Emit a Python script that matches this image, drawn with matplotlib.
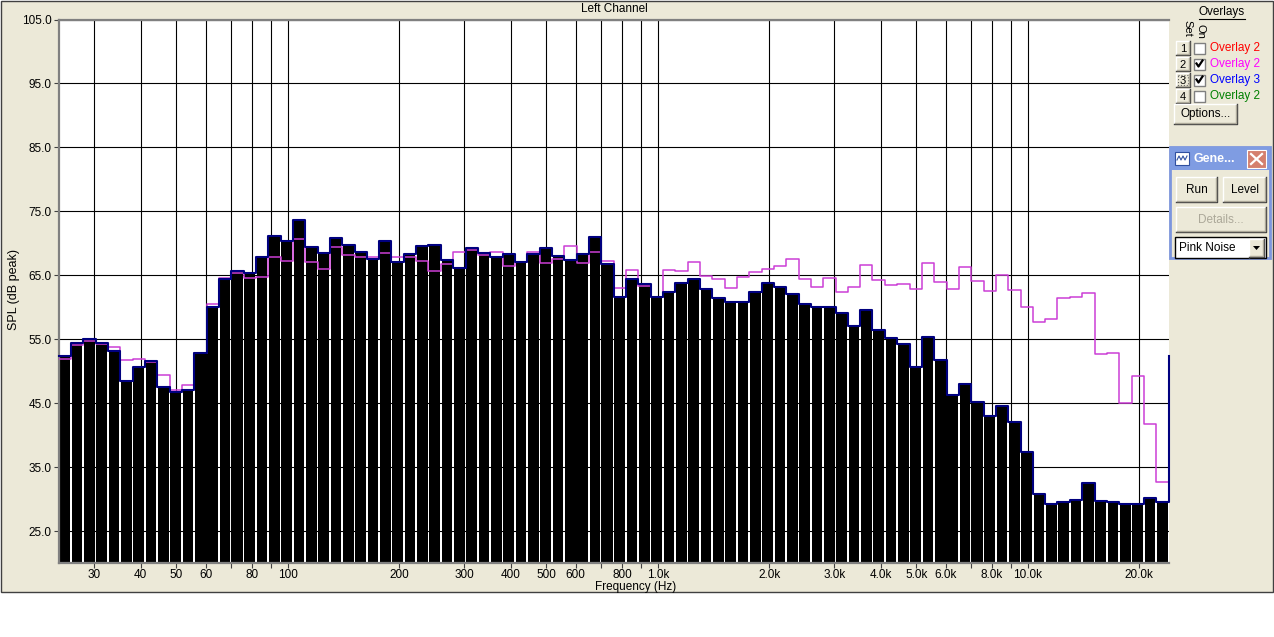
import numpy as np
import matplotlib.pyplot as plt
from matplotlib.patches import Rectangle, Polygon

plt.rcParams['font.family'] = ['Liberation Sans', 'DejaVu Sans']

# analyzer bands: log spaced from 24 Hz to 24 kHz
F_LO, F_HI, N_BANDS = 24.0, 24000.0, 90

# live measurement (black bars, traced by overlay 3 in blue), dB peak per band
spl_live = [52.4, 54.4, 55.0, 54.4, 53.2, 48.5, 50.7, 51.6, 47.5, 46.7,
            47.1, 52.9, 60.1, 64.4, 65.6, 65.4, 67.8, 71.2, 70.4, 73.7,
            69.4, 68.5, 70.8, 69.8, 68.7, 67.6, 70.4, 67.0, 68.4, 69.6,
            69.8, 67.4, 66.2, 69.2, 68.5, 67.8, 68.4, 67.1, 68.4, 69.3,
            68.0, 67.4, 68.4, 71.0, 66.7, 61.6, 64.4, 63.6, 61.6, 62.4,
            63.8, 64.4, 62.8, 61.4, 60.8, 60.8, 62.4, 63.8, 63.1, 62.0,
            60.5, 60.0, 60.0, 59.1, 57.1, 59.5, 56.4, 55.2, 54.3, 50.7,
            55.4, 51.8, 46.3, 48.0, 45.2, 43.0, 44.5, 42.0, 37.4, 30.8,
            29.2, 29.5, 29.8, 32.5, 29.7, 29.5, 29.3, 29.3, 30.1, 29.5]
# blue trace climbs to this level at the right edge
spl_live_next = 52.4

# overlay 2 (magenta)
spl_overlay2 = [51.9, 54.1, 54.7, 54.2, 53.8, 51.8, 51.9, 51.5, 49.4, 47.1,
                47.9, 52.9, 60.5, 64.5, 65.4, 64.5, 64.7, 67.9, 67.2, 70.6,
                67.0, 66.0, 69.4, 68.2, 67.9, 67.8, 68.5, 67.9, 67.9, 67.2,
                65.7, 66.7, 68.7, 69.0, 68.2, 68.6, 66.5, 67.1, 68.6, 66.9,
                67.5, 69.5, 66.9, 68.7, 67.3, 63.0, 65.8, 63.3, 61.6, 65.9,
                65.6, 67.0, 64.9, 64.4, 63.0, 64.7, 65.5, 66.0, 66.5, 67.5,
                64.4, 63.2, 64.6, 62.4, 63.2, 66.6, 64.3, 63.5, 63.6, 62.9,
                66.9, 64.0, 62.9, 66.3, 64.1, 62.6, 65.0, 62.7, 60.0, 57.7,
                58.1, 61.4, 61.6, 62.2, 52.7, 52.8, 45.1, 49.2, 41.8, 32.7]

grid_freqs = [30, 40, 50, 60, 70, 80, 90, 100, 200, 300, 400, 500, 600, 700,
              800, 900, 1000, 2000, 3000, 4000, 5000, 6000, 7000, 8000, 9000,
              10000, 20000]
grid_labels = ['30', '40', '50', '60', '', '80', '', '100', '200', '300', '400',
               '500', '600', '', '800', '', '1.0k', '2.0k', '3.0k', '4.0k',
               '5.0k', '6.0k', '', '8.0k', '', '10.0k', '20.0k']
y_ticks = [25, 35, 45, 55, 65, 75, 85, 95, 105]

W, H = 1274, 637
fig = plt.figure(figsize=(W / 100, H / 100), dpi=100)
fig.patch.set_facecolor('white')

# pixel-space layer for the window chrome
ui = fig.add_axes([0, 0, 1, 1])
ui.set_xlim(0, W)
ui.set_ylim(H, 0)
ui.axis('off')
ui.set_zorder(-1)
ui.add_patch(Rectangle((0.5, 0.5), W - 1.5, 591, facecolor='#ECE9D8',
                       edgecolor='#404040', lw=1))

ax = fig.add_axes([58.5 / W, (H - 563) / H, 1110 / W, 543.5 / H])
ax.set_facecolor('white')

edges = F_LO * (F_HI / F_LO) ** (np.arange(N_BANDS + 1) / N_BANDS)
r = (F_HI / F_LO) ** (1 / N_BANDS)
left = edges[:-1] * r ** 0.07
right = edges[1:] * r ** -0.07
ax.bar(left, spl_live, width=right - left, align='edge', color='black',
       linewidth=0, zorder=2)
ax.step(edges, spl_overlay2 + [spl_overlay2[-1]], where='post',
        color='#CC3ED6', lw=1.1, zorder=3)
ax.step(edges, spl_live + [spl_live_next], where='post',
        color='#00007F', lw=1.5, zorder=4, clip_on=False)

ax.set_xscale('log')
ax.set_xlim(F_LO, F_HI)
ax.set_ylim(20, 105)
ax.set_xticks(grid_freqs)
ax.set_xticklabels(grid_labels)
ax.xaxis.set_minor_locator(plt.NullLocator())
ax.set_yticks(y_ticks)
ax.set_yticklabels([f'{v:.1f}' for v in y_ticks])
ax.grid(True, color='black', lw=0.8, zorder=1)
ax.set_axisbelow(True)
ax.tick_params(axis='both', labelsize=8.5, length=3.5, width=0.8, color='#404040', pad=1.5)
ax.tick_params(axis='x', pad=1)

for side in ['left', 'bottom', 'top']:
    ax.spines[side].set_color('#808080')
    ax.spines[side].set_linewidth(1.6)
ax.spines['right'].set_visible(False)

ui.text(614, 9, 'Left Channel', ha='center', va='center', fontsize=8.5)
ui.text(636, 587, 'Frequency (Hz)', ha='center', va='center', fontsize=8.5)
ui.text(14, 290, 'SPL (dB peak)', ha='center', va='center', fontsize=9, rotation=90)


def button(x0, y0, x1, y1, label, color='black', bold=False, fs=8.5):
    ui.add_patch(Rectangle((x0, y0), x1 - x0, y1 - y0, facecolor='#ECE9D8',
                           edgecolor='none'))
    ui.plot([x0, x0, x1], [y1, y0, y0], color='white', lw=1)
    ui.plot([x0, x1, x1], [y1, y1, y0], color='#404040', lw=1)
    ui.plot([x0 + 1, x1 - 1, x1 - 1], [y1 - 1, y1 - 1, y0 + 1], color='#ACA899', lw=1)
    ui.text((x0 + x1) / 2, (y0 + y1) / 2 + 0.5, label, ha='center', va='center',
            fontsize=fs, color=color, fontweight='bold' if bold else 'normal')


def checkbox(x, y, checked):
    ui.add_patch(Rectangle((x, y - 5.5), 11, 11, facecolor='white',
                           edgecolor='#808080', lw=1))
    if checked:
        ui.plot([x + 2.5, x + 4.5, x + 8.5], [y - 0.5, y + 2.5, y - 3.5],
                color='black', lw=1.6)


# overlays panel
ui.text(1222, 12, 'Overlays', ha='center', va='center', fontsize=8.5)
ui.plot([1199, 1245], [19, 19], color='black', lw=0.8)
ui.text(1187, 28, 'Set', ha='center', va='center', fontsize=8, rotation=270)
ui.text(1200, 31, 'On', ha='center', va='center', fontsize=8, rotation=270)

overlay_rows = [('1', False, 'Overlay 2', '#FF0000'),
                ('2', True, 'Overlay 2', '#FF00FF'),
                ('3', True, 'Overlay 3', '#0000FF'),
                ('4', False, 'Overlay 2', '#008000')]
for i, (num, on, name, col) in enumerate(overlay_rows):
    yc = 48 + 16 * i
    button(1176, yc - 7, 1190, yc + 7, num, fs=8)
    checkbox(1194, yc, on)
    ui.text(1210, yc + 0.5, name, ha='left', va='center', fontsize=8.5, color=col)
ui.add_patch(Rectangle((1178, 75), 10, 10, facecolor='none', edgecolor='#606060',
                       lw=0.8, ls=':'))
button(1174, 104, 1237, 124, 'Options...')

# generator mini window
ui.add_patch(Rectangle((1170, 147), 100, 111, facecolor='#ECE9D8',
                       edgecolor='#7D96DE', lw=2))
ui.add_patch(Rectangle((1170, 147), 100, 23, facecolor='#7F9CE2', edgecolor='none'))
ui.add_patch(Rectangle((1175, 152), 14, 13, facecolor='white', edgecolor='#3050A0', lw=0.8))
ui.plot([1177, 1179, 1181, 1183, 1185, 1187], [160, 156, 160, 156, 160, 156],
        color='#3050A0', lw=0.8)
ui.text(1193, 159, 'Gene...', ha='left', va='center', fontsize=9, color='white',
        fontweight='bold')
ui.add_patch(Rectangle((1247, 150), 19, 18, facecolor='#D4806E', edgecolor='white', lw=0.8))
ui.plot([1251, 1262], [154, 164], color='white', lw=1.6)
ui.plot([1251, 1262], [164, 154], color='white', lw=1.6)
button(1176, 177, 1217, 202, 'Run')
button(1223, 177, 1266, 202, 'Level')
button(1176, 207, 1266, 232, 'Details...', color='#ACA899')
ui.add_patch(Rectangle((1175, 237), 91, 21, facecolor='white', edgecolor='black', lw=1))
ui.text(1179, 248, 'Pink Noise', ha='left', va='center', fontsize=8.5)
button(1249, 239, 1264, 257, '')
ui.add_patch(Polygon([[1253, 246], [1260, 246], [1256.5, 250]], closed=True,
                     facecolor='black', edgecolor='none'))

fig.savefig('out.png', dpi=100)
